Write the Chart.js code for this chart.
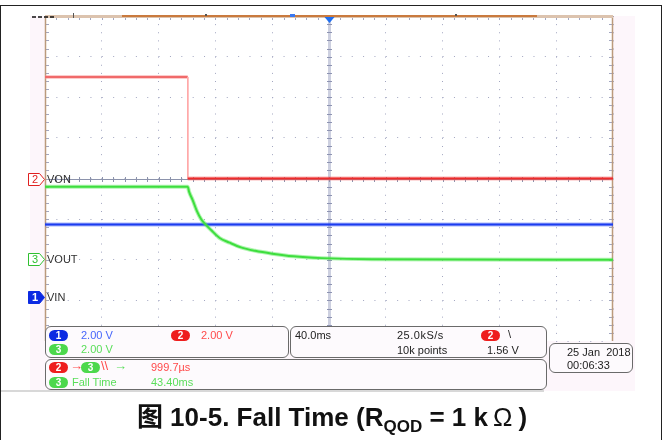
<!DOCTYPE html>
<html>
<head>
<meta charset="utf-8">
<script src="https://cdn.jsdelivr.net/npm/chart.js@4.4.1/dist/chart.umd.min.js"></script>
<style>
  html, body { margin: 0; padding: 0; background: #fff; }
  #stage { position: relative; width: 664px; height: 440px; overflow: hidden; font-family: "Liberation Sans", Arial, sans-serif; }
  #frame { position: absolute; left: 0; top: 5px; width: 660px; height: 440px; border: 1px solid #222; border-bottom: none; }
  #screen { position: absolute; left: 30px; top: 16px; width: 605px; height: 375px; background: #fdf6fb; }
  #screenEdge { position: absolute; left: 1px; top: 390px; width: 543px; height: 2px; background: #d8d8d8; }
  #scope { position: absolute; left: 0; top: 0; }
  .panel { position: absolute; border: 1px solid #6a6a6a; border-radius: 6px; background: #fdfafd; box-sizing: border-box; }
  .t { position: absolute; font-size: 11px; line-height: 12px; white-space: nowrap; color: #222; }
  .pill { position: absolute; width: 19px; height: 11px; border-radius: 6px; color: #fff; font-size: 10px; font-weight: bold; line-height: 11px; text-align: center; }
  .blue { color: #4666fa; } .red { color: #ff4a4a; } .green { color: #5ade5a; }
  .pb { background: #0c2ae2; } .pr { background: #ee1e1e; } .pg { background: #4cd84c; }
  .mk { position: absolute; font-size: 11px; line-height: 12px; width: 12px; text-align: center; }
  .lbl { position: absolute; font-size: 11px; line-height: 12px; color: #303030; }
  #caption { position: absolute; left: 0; top: 396px; width: 664px; text-align: center; font-size: 26px; font-weight: bold; color: #111; font-family: "Liberation Sans", "Noto Sans CJK SC", Arial, sans-serif; }
  #caption sub { font-size: 17px; vertical-align: -6px; line-height: 0; }
  #caption .om { font-weight: normal; margin: 0 6px 0 5px; }
</style>
</head>
<body>
<div id="stage">
  <div id="frame"></div>
  <div id="screen"></div>
  <div id="screenEdge"></div>
  <canvas id="scope" width="664" height="440"></canvas>

  <!-- channel ground markers, placed from the channel scales -->
  <span class="mk" id="mk1" style="color:#fff;font-weight:bold">1</span>
  <span class="mk" id="mk2" style="color:#e02020">2</span>
  <span class="mk" id="mk3" style="color:#30c030">3</span>
  <span class="lbl" id="lb1">VIN</span>
  <span class="lbl" id="lb2">VON</span>
  <span class="lbl" id="lb3">VOUT</span>

  <!-- vertical settings -->
  <div class="panel" style="left:45px;top:326px;width:244px;height:32px"></div>
  <span class="pill pb" style="left:49px;top:330px">1</span>
  <span class="t blue" style="left:81px;top:329px">2.00 V</span>
  <span class="pill pr" style="left:171px;top:330px">2</span>
  <span class="t red" style="left:201px;top:329px">2.00 V</span>
  <span class="pill pg" style="left:49px;top:344px">3</span>
  <span class="t green" style="left:81px;top:343px">2.00 V</span>

  <!-- horizontal / trigger -->
  <div class="panel" style="left:290px;top:326px;width:257px;height:32px"></div>
  <span class="t" style="left:295px;top:329px">40.0ms</span>
  <span class="t" style="left:397px;top:329px;letter-spacing:0.5px">25.0kS/s</span>
  <span class="t" style="left:397px;top:344px">10k points</span>
  <span class="pill pr" style="left:481px;top:330px">2</span>
  <span class="t" style="left:508px;top:328px">\</span>
  <span class="t" style="left:487px;top:344px">1.56 V</span>

  <!-- measurements -->
  <div class="panel" style="left:45px;top:359px;width:502px;height:31px"></div>
  <span class="pill pr" style="left:49px;top:362px">2</span>
  <span class="t red" style="left:70px;top:360px;font-size:13px;font-weight:bold">&#8594;</span>
  <span class="pill pg" style="left:81px;top:362px">3</span>
  <span class="t red" style="left:101px;top:360px;font-size:13px">\\</span>
  <span class="t green" style="left:114px;top:360px;font-size:13px;font-weight:bold">&#8594;</span>
  <span class="t red" style="left:151px;top:361px">999.7µs</span>
  <span class="pill pg" style="left:49px;top:377px">3</span>
  <span class="t green" style="left:72px;top:376px">Fall Time</span>
  <span class="t green" style="left:151px;top:376px">43.40ms</span>

  <!-- date -->
  <div class="panel" style="left:549px;top:343px;width:84px;height:30px"></div>
  <span class="t" style="left:567px;top:346px">25 Jan&nbsp;&nbsp;2018</span>
  <span class="t" style="left:567px;top:359px">00:06:33</span>

  <div id="caption">图 10-5. Fall Time (R<sub>QOD</sub> = 1 k<span class="om">Ω</span>)</div>
</div>

<script>
// 40.0 ms/div, 10 divisions, trigger in the middle
const timeMin = -200;
const timeMax = 200;
const msPerDiv = 40;
const voltsPerDiv = 2;

// channel 1: VIN
const vinTime = [-200, 200];
const vinVolts = [3.55, 3.55];

// channel 2: VON
const vonTime = [-200, -99.5, -99.5, 200];
const vonVolts = [5.0, 5.0, 0.0, 0.0];

// channel 3: VOUT
const voutTime = [-200, -99.5, -98.5, -96, -93, -90, -87, -83, -77, -70, -62, -52, -40, -25, -5, 30, 200];
const voutVolts = [3.56, 3.56, 3.3, 2.9, 2.35, 1.95, 1.7, 1.42, 1.03, 0.8, 0.57, 0.4, 0.26, 0.13, 0.04, -0.02, -0.04];

// ground reference of each channel, in divisions from the bottom of the screen
const groundDiv = { ch1: 1.09, ch2: 4.0, ch3: 2.02 };

const gridColor = "#a2a6c0";

function toPoints(times, volts) {
  return times.map((t, i) => ({ x: t, y: volts[i] }));
}

function channelScale(id) {
  return {
    type: "linear",
    display: false,
    min: -groundDiv[id] * voltsPerDiv,
    max: (8 - groundDiv[id]) * voltsPerDiv
  };
}

// a trace is drawn twice: a soft wide band for the noise, and the core line
function trace(label, axis, points, color, haze, order, extra) {
  const base = { label, data: points, yAxisID: axis, pointRadius: 0, tension: 0 };
  return [
    Object.assign({}, base, { borderColor: color, borderWidth: 2, order }, extra),
    Object.assign({}, base, { label: label + " noise", borderColor: haze, borderWidth: 4, order: order + 0.5 }, extra)
  ];
}

const scopeDecor = {
  id: "scopeDecor",
  beforeDraw(chart) {
    const { ctx, chartArea: a } = chart;
    ctx.save();
    ctx.fillStyle = "#ffffff";
    ctx.fillRect(a.left, a.top, a.right - a.left, a.bottom - a.top);
    ctx.restore();
  },
  beforeDatasetsDraw(chart) {
    const { ctx, chartArea: a, scales } = chart;
    const xs = scales.x;
    const ys = scales.y;
    const dx = (a.right - a.left) / 50;
    const dy = (a.bottom - a.top) / 40;
    const cx = Math.round(xs.getPixelForValue(0));
    const cy = Math.round(ys.getPixelForValue(4)) + 0.5;
    ctx.save();

    // trigger time line
    ctx.fillStyle = "#cdd0e0";
    ctx.fillRect(cx - 1, a.top, 3, a.bottom - a.top);
    ctx.strokeStyle = "#8e94b2";
    ctx.lineWidth = 1;
    ctx.beginPath();
    for (let y = a.top + dy; y < a.bottom; y += dy) {
      const yy = Math.round(y) + 0.5;
      ctx.moveTo(cx - 2, yy);
      ctx.lineTo(cx + 3, yy);
    }
    ctx.stroke();

    // centre horizontal line
    ctx.strokeStyle = "#8c93ac";
    ctx.beginPath();
    ctx.moveTo(a.left, cy);
    ctx.lineTo(a.right, cy);
    for (let x = a.left + dx; x < a.right; x += dx) {
      const xx = Math.round(x) + 0.5;
      ctx.moveTo(xx, cy - 2.5);
      ctx.lineTo(xx, cy + 2.5);
    }
    ctx.stroke();

    // border ticks
    ctx.strokeStyle = gridColor;
    ctx.beginPath();
    for (let y = a.top + dy; y < a.bottom; y += dy) {
      const yy = Math.round(y) + 0.5;
      ctx.moveTo(a.left, yy);
      ctx.lineTo(a.left + 4, yy);
      ctx.moveTo(a.right - 4, yy);
      ctx.lineTo(a.right, yy);
    }
    for (let x = a.left + dx; x < a.right; x += dx) {
      const xx = Math.round(x) + 0.5;
      ctx.moveTo(xx, a.top);
      ctx.lineTo(xx, a.top + 4);
    }
    ctx.stroke();

    // frame of the graticule
    ctx.strokeStyle = "#bb9a7c";
    ctx.lineWidth = 1.5;
    ctx.beginPath();
    ctx.moveTo(a.left + 0.5, a.top);
    ctx.lineTo(a.left + 0.5, a.bottom);
    ctx.moveTo(a.right - 0.5, a.top);
    ctx.lineTo(a.right - 0.5, a.bottom);
    ctx.stroke();
    ctx.fillStyle = "#dcc3ae";
    ctx.fillRect(a.left, a.top - 1, a.right - a.left, 3);

    // record view bracket
    ctx.fillStyle = "#c97a3e";
    ctx.fillRect(a.left + 77, a.top - 1, 415, 2);
    ctx.fillStyle = "#555";
    ctx.fillRect(a.left + 160, a.top - 2, 2, 2);
    ctx.fillRect(a.left + 410, a.top - 2, 2, 2);
    ctx.fillRect(a.left + 28, a.top - 3, 1, 5);
    ctx.fillStyle = "#3a78f0";
    ctx.fillRect(a.left + 245, a.top - 2, 5, 3);
    ctx.strokeStyle = "#111";
    ctx.lineWidth = 1.5;
    ctx.setLineDash([4, 2]);
    ctx.beginPath();
    ctx.moveTo(a.left - 13, a.top + 1);
    ctx.lineTo(a.left + 10, a.top + 1);
    ctx.stroke();
    ctx.restore();
  },
  afterDraw(chart) {
    const { ctx, chartArea: a, scales } = chart;
    const cx = scales.x.getPixelForValue(0);
    ctx.save();
    // trigger position marker
    ctx.fillStyle = "#1e6ef0";
    ctx.beginPath();
    ctx.moveTo(cx - 4.5, a.top + 1);
    ctx.lineTo(cx + 5.5, a.top + 1);
    ctx.lineTo(cx + 0.5, a.top + 7);
    ctx.closePath();
    ctx.fill();

    const markers = [
      { id: "ch1", n: 1, fill: "#0c2ae2", stroke: "#0c2ae2" },
      { id: "ch2", n: 2, fill: "#ffffff", stroke: "#e02020" },
      { id: "ch3", n: 3, fill: "#ffffff", stroke: "#30c030" }
    ];
    markers.forEach((m) => {
      const y = Math.round(scales[m.id].getPixelForValue(0)) + 0.5;
      const x0 = a.left - 16.5;
      ctx.beginPath();
      ctx.moveTo(x0, y - 6);
      ctx.lineTo(x0 + 11, y - 6);
      ctx.lineTo(x0 + 16, y);
      ctx.lineTo(x0 + 11, y + 6);
      ctx.lineTo(x0, y + 6);
      ctx.closePath();
      ctx.fillStyle = m.fill;
      ctx.fill();
      ctx.strokeStyle = m.stroke;
      ctx.lineWidth = 1;
      ctx.stroke();
      const mk = document.getElementById("mk" + m.n);
      mk.style.left = (x0 + 0.5) + "px";
      mk.style.top = (y - 6.5) + "px";
      const lb = document.getElementById("lb" + m.n);
      lb.style.left = (a.left + 2) + "px";
      lb.style.top = (y - 6.5) + "px";
    });
    ctx.restore();
  }
};

// the high level of VON is drawn fainter, the falling edge is a thin pale line
const vonStyle = {
  segment: {
    borderColor: (c) => {
      if (c.p0.parsed.x === c.p1.parsed.x) return "rgba(255,170,170,0.9)";
      if (c.p0.parsed.y > 2.5) return c.datasetIndex === 0 ? "#f06a6a" : "rgba(250,140,140,0.45)";
      return undefined;
    },
    borderWidth: (c) => c.p0.parsed.x === c.p1.parsed.x ? 1 : undefined
  }
};

new Chart(document.getElementById("scope"), {
  type: "line",
  data: {
    datasets: [
      ...trace("VON", "ch2", toPoints(vonTime, vonVolts), "#ec2c2c", "rgba(245,90,90,0.45)", 0, vonStyle),
      ...trace("VOUT", "ch3", toPoints(voutTime, voutVolts), "#3ede3e", "rgba(80,230,80,0.45)", 2, { cubicInterpolationMode: "monotone" }),
      ...trace("VIN", "ch1", toPoints(vinTime, vinVolts), "#1c3cf0", "rgba(60,90,240,0.45)", 4, {})
    ]
  },
  options: {
    responsive: false,
    animation: false,
    events: [],
    layout: { padding: { left: 45, top: 16, right: 51, bottom: 99 } },
    plugins: { legend: { display: false }, tooltip: { enabled: false } },
    scales: {
      x: {
        type: "linear",
        min: timeMin,
        max: timeMax,
        ticks: { stepSize: msPerDiv, display: false },
        grid: { color: gridColor, lineWidth: 1, drawTicks: false },
        border: { display: false, dash: [1, 7.125] }
      },
      y: {
        type: "linear",
        min: 0,
        max: 8,
        ticks: { stepSize: 1, display: false },
        grid: { color: gridColor, lineWidth: 1, drawTicks: false },
        border: { display: false, dash: [1, 10.36] }
      },
      ch1: channelScale("ch1"),
      ch2: channelScale("ch2"),
      ch3: channelScale("ch3")
    }
  },
  plugins: [scopeDecor]
});
</script>
</body>
</html>
